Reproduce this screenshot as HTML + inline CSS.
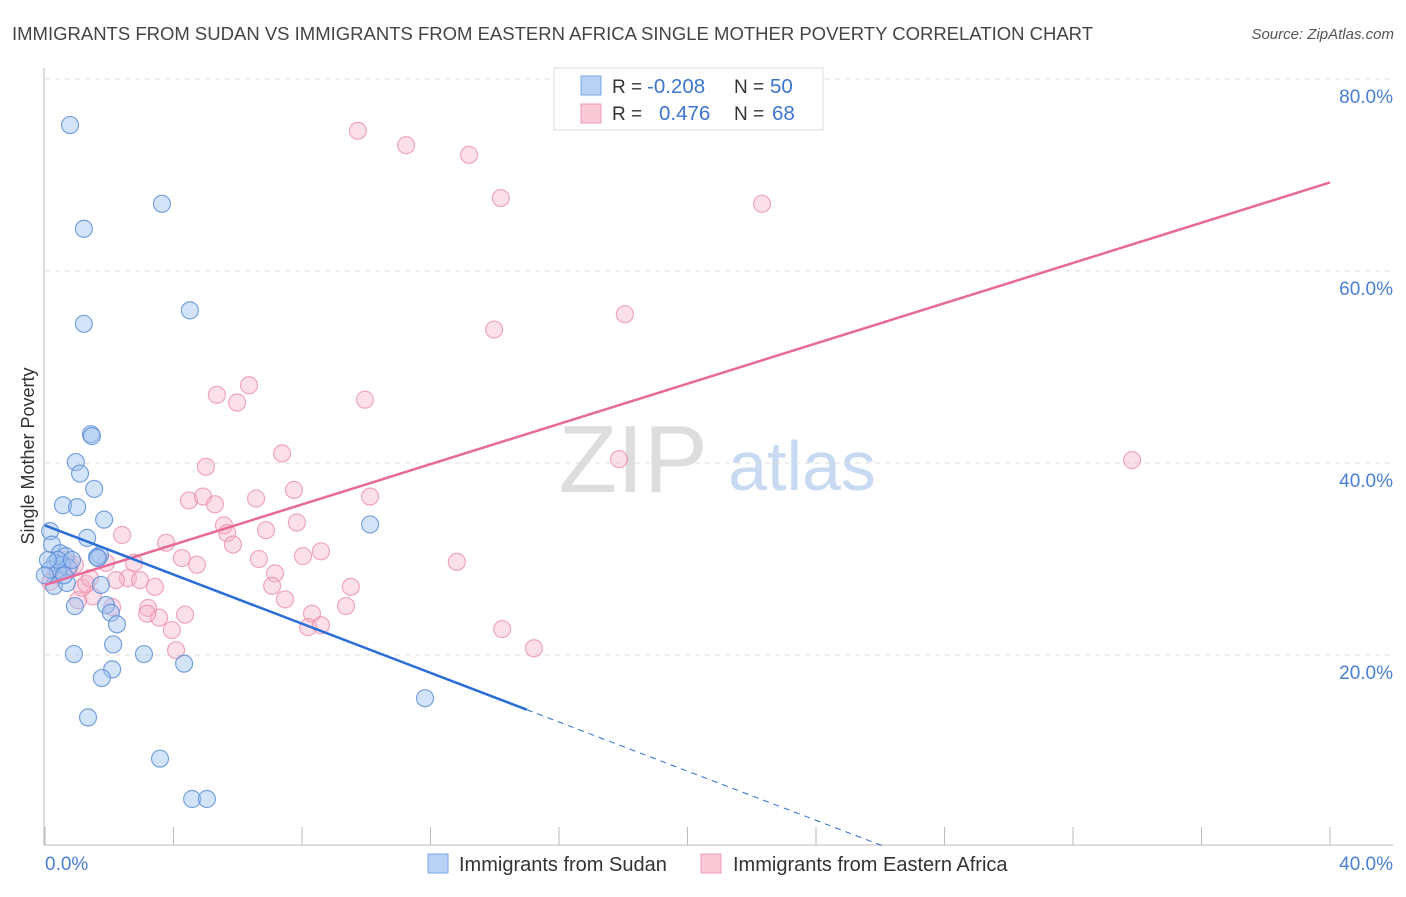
<!DOCTYPE html>
<html><head><meta charset="utf-8"><style>
body{margin:0;background:#fff;font-family:"Liberation Sans",sans-serif}
svg text{font-family:"Liberation Sans",sans-serif}
</style></head><body>
<svg id="chart" width="1406" height="892" xmlns="http://www.w3.org/2000/svg">
<text x="12" y="40" font-size="18.5" fill="#444">IMMIGRANTS FROM SUDAN VS IMMIGRANTS FROM EASTERN AFRICA SINGLE MOTHER POVERTY CORRELATION CHART</text>
<text x="1394" y="39" font-size="15" fill="#555" font-style="italic" text-anchor="end">Source: ZipAtlas.com</text>
<text transform="translate(34,456) rotate(-90)" font-size="18" fill="#333" text-anchor="middle">Single Mother Poverty</text>
<g>
<text x="633" y="492" font-size="96" font-family="Liberation Serif, serif" fill="#ddd" text-anchor="middle">ZIP</text>
<text x="802" y="490" font-size="70" fill="#c8daf2" text-anchor="middle">atlas</text>
</g>
<g id="grid"></g>
<g id="marks"></g>
<g>
<rect x="554" y="68" width="269" height="62" fill="#fff" stroke="#ddd"/>
<rect x="581" y="76" width="20" height="19" fill="#b8d2f5" stroke="#7aa6e6"/>
<rect x="581" y="104" width="20" height="19" fill="#f9c9d7" stroke="#ee9ab5"/>
<text x="612" y="93" font-size="19" fill="#333">R =</text><text x="647" y="93" font-size="20.5" fill="#3d74d0">-0.208</text>
<text x="734" y="93" font-size="19" fill="#333">N =</text><text x="770" y="93" font-size="20.5" fill="#3d74d0">50</text>
<text x="612" y="120" font-size="19" fill="#333">R =</text><text x="659" y="120" font-size="20.5" fill="#3d74d0">0.476</text>
<text x="734" y="120" font-size="19" fill="#333">N =</text><text x="772" y="120" font-size="20.5" fill="#3d74d0">68</text>
</g>
<g>
<rect x="428" y="854" width="20" height="19" fill="#b8d2f5" stroke="#7aa6e6"/>
<text x="459" y="871" font-size="20" fill="#333">Immigrants from Sudan</text>
<rect x="701" y="854" width="20" height="19" fill="#f9c9d7" stroke="#ee9ab5"/>
<text x="733" y="871" font-size="20" fill="#333">Immigrants from Eastern Africa</text>
</g>
</svg>
<script>
const yTicks=[20,40,60,80];
const xTickVals=[0,4,8,12,16,20,24,28,32,36,40];
const sudanX=[0.78,3.64,1.21,1.21,4.51,1.43,1.46,0.96,1.09,1.53,0.56,1.00,1.84,10.12,0.16,0.22,1.31,0.47,0.65,1.71,1.62,0.31,0.53,0.72,0.40,0.28,0.68,1.74,0.93,1.90,2.05,2.24,2.12,0.90,3.08,4.33,2.09,1.77,1.34,11.83,3.58,4.58,5.04,0.16,0.40,0.59,0.09,0.84,0.0,1.65];
const sudanY=[75.2,67.0,64.4,54.5,55.9,43.0,42.8,40.1,38.9,37.3,35.6,35.4,34.1,33.6,32.9,31.5,32.2,30.6,30.3,30.4,30.2,29.6,29.4,29.1,28.6,27.2,27.5,27.3,25.1,25.2,24.4,23.2,21.1,20.1,20.1,19.1,18.5,17.6,13.5,15.5,9.2,5.0,5.0,28.9,29.9,28.3,29.9,29.9,28.3,30.1];
const eafX=[9.74,11.24,13.20,14.19,22.32,13.98,18.05,6.35,5.35,5.98,9.96,5.01,7.38,17.87,33.84,7.75,4.48,4.92,5.29,6.57,10.12,5.57,5.67,7.84,6.88,2.40,3.77,5.85,8.59,4.26,6.66,8.03,12.82,4.73,2.77,7.16,1.90,0.78,2.58,2.96,2.21,7.07,3.42,9.52,1.49,1.15,1.03,1.28,7.47,2.09,3.21,4.36,3.55,3.18,8.31,9.37,3.95,8.19,8.59,14.23,4.08,15.22,0.47,0.62,0.93,0.31,0.16,1.40];
const eafY=[74.6,73.1,72.1,67.6,67.0,53.9,55.5,48.1,47.1,46.3,46.6,39.6,41.0,40.4,40.3,37.2,36.1,36.5,35.7,36.3,36.5,33.5,32.7,33.8,33.0,32.5,31.7,31.5,30.8,30.1,30.0,30.3,29.7,29.4,29.6,28.5,29.6,29.3,28.0,27.8,27.8,27.2,27.1,27.1,26.1,27.0,25.7,27.4,25.8,25.0,24.9,24.2,23.9,24.3,24.3,25.1,22.6,22.9,23.1,22.7,20.5,20.7,28.9,29.9,29.4,28.3,27.6,28.0];
const sudanTrend=[33.5,-1.28];
const eafTrend=[27.3,1.048];
const NS="http://www.w3.org/2000/svg";
const X=v=>45+v*1285/40, Y=v=>847-v*9.6;
function mk(t,a,p){const e=document.createElementNS(NS,t);for(const k in a)e.setAttribute(k,a[k]);p.appendChild(e);return e;}
const grid=document.getElementById('grid'), marks=document.getElementById('marks');
yTicks.forEach(t=>{
 const l=mk('line',{x1:45,x2:1393,y1:Y(t),y2:Y(t),stroke:'#ddd','stroke-dasharray':'5,5'},grid);
 
 
 const tx=mk('text',{x:1393,y:Y(t)+24,'font-size':19,fill:'#4a7fd4','text-anchor':'end'},grid);
 tx.textContent=t.toFixed(1)+'%';
 
 
});
const ax=mk('line',{x1:44,x2:44,y1:68,y2:845,stroke:'#bbb'},grid);


const bx=mk('line',{x1:44,x2:1393,y1:845,y2:845,stroke:'#bbb'},grid);


xTickVals.forEach(t=>{
 const l=mk('line',{x1:X(t),x2:X(t),y1:827,y2:845,stroke:'#bbb'},grid);
 
 
});
[[0,'start',45],[40,'end',1393]].forEach(([v,a,x])=>{
 const tx=mk('text',{x:x,y:870,'font-size':19,fill:'#4a7fd4','text-anchor':a},grid);
 tx.textContent=v.toFixed(1)+'%';
 
 
});
function dots(xs,ys,fill,stroke,name){
 xs.forEach((x,i)=>{
  const c=mk('circle',{cx:X(x),cy:Y(ys[i]),r:8.5,fill:fill,stroke:stroke,'stroke-width':1.2},marks);
  
  
 });
}
dots(eafX,eafY,'rgba(246,178,200,0.4)','rgba(236,140,170,0.75)','eastern-africa-point');
dots(sudanX,sudanY,'rgba(160,196,240,0.45)','rgba(90,140,215,0.8)','sudan-point');
const e0=X(0),e1=X(40);
const pl=mk('line',{x1:e0,y1:Y(eafTrend[0]),x2:e1,y2:Y(eafTrend[0]+eafTrend[1]*40),stroke:'#e8699a','stroke-width':2.5},marks);


const xs=15, xz=-sudanTrend[0]/sudanTrend[1];
const bl=mk('line',{x1:X(0),y1:Y(sudanTrend[0]),x2:X(xs),y2:Y(sudanTrend[0]+sudanTrend[1]*xs),stroke:'#2a6fd6','stroke-width':2.5},marks);


const bd=mk('line',{x1:X(xs),y1:Y(sudanTrend[0]+sudanTrend[1]*xs),x2:X(xz),y2:Y(0),stroke:'#2a6fd6','stroke-width':1,'stroke-dasharray':'6,5'},marks);


</script>
</body></html>
